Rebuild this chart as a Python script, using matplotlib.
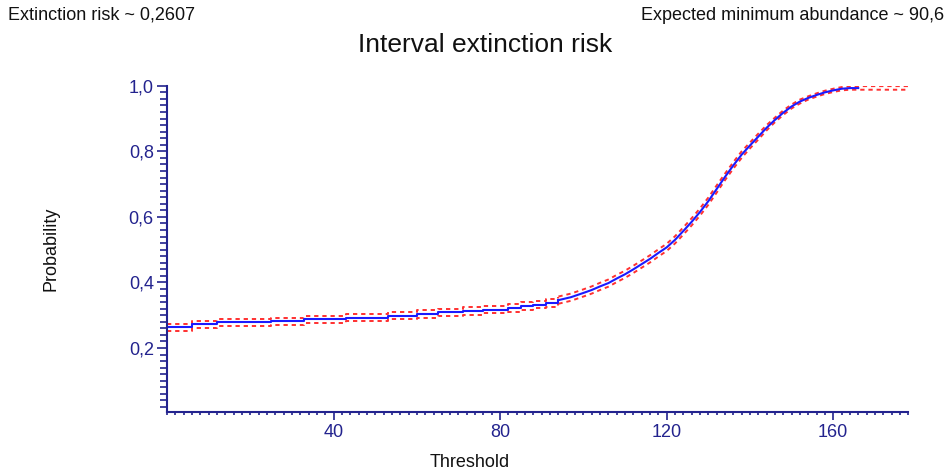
import matplotlib
matplotlib.use("Agg")
import matplotlib.pyplot as plt
from matplotlib.ticker import MultipleLocator, FixedLocator, FuncFormatter

# ---- data ----
threshold = [0, 6, 12, 25, 33, 43, 53, 60, 65, 71, 76, 82, 85, 88, 91, 94, 97,
             100, 102, 104, 106, 108, 110, 112, 114, 116, 118, 120, 122, 124,
             126, 128, 130, 132, 134, 136, 138, 140, 142, 144, 146, 148, 150,
             152, 154, 156, 158, 160, 162, 164, 166]
risk = [0.263, 0.272, 0.278, 0.282, 0.288, 0.2925, 0.299, 0.304, 0.309, 0.313,
        0.317, 0.322, 0.328, 0.332, 0.337, 0.346, 0.355, 0.368, 0.377, 0.388,
        0.398, 0.412, 0.425, 0.440, 0.456, 0.472, 0.490, 0.507, 0.530, 0.557,
        0.585, 0.615, 0.648, 0.685, 0.722, 0.757, 0.790, 0.818, 0.845, 0.872,
        0.896, 0.918, 0.937, 0.952, 0.963, 0.972, 0.980, 0.986, 0.991, 0.993,
        0.993]
bound_threshold = threshold + [178]
risk_upper = [0.274, 0.283, 0.289, 0.293, 0.299, 0.303, 0.310, 0.315, 0.320,
              0.324, 0.328, 0.333, 0.339, 0.343, 0.348, 0.357, 0.366, 0.379,
              0.388, 0.399, 0.409, 0.423, 0.436, 0.451, 0.467, 0.483, 0.501,
              0.518, 0.541, 0.568, 0.596, 0.626, 0.659, 0.696, 0.732, 0.767,
              0.800, 0.827, 0.854, 0.880, 0.903, 0.925, 0.943, 0.958, 0.968,
              0.977, 0.985, 0.991, 0.996, 0.999, 0.999, 0.999]
risk_lower = [0.252, 0.261, 0.267, 0.271, 0.277, 0.282, 0.288, 0.293, 0.298,
              0.302, 0.306, 0.311, 0.317, 0.321, 0.326, 0.335, 0.344, 0.357,
              0.366, 0.377, 0.387, 0.401, 0.414, 0.429, 0.445, 0.461, 0.479,
              0.496, 0.519, 0.546, 0.574, 0.604, 0.637, 0.674, 0.712, 0.747,
              0.780, 0.809, 0.836, 0.864, 0.889, 0.911, 0.931, 0.946, 0.958,
              0.967, 0.975, 0.981, 0.986, 0.988, 0.988, 0.988]
x_major = [40, 80, 120, 160]
y_major = [0.2, 0.4, 0.6, 0.8, 1.0]

title = "Interval extinction risk"
left_note = "Extinction risk ~ 0,2607"
right_note = "Expected minimum abundance ~ 90,6"

# ---- style ----
navy = "#23238e"
plt.rcParams["font.family"] = ["Liberation Sans", "DejaVu Sans"]

fig = plt.figure(figsize=(9.49, 4.74), dpi=100)
ax = fig.add_axes([0.176, 0.131, 0.781, 0.688])

# flat part drawn as steps, steep part as a line (as in the reference)
split = threshold.index(94)


def draw(xs, ys, **kw):
    ax.plot(xs[:split + 1], ys[:split + 1], drawstyle="steps-post", **kw)
    ax.plot(xs[split:], ys[split:], **kw)


red_kw = dict(color="#ff3030", lw=1.4, dashes=(2.2, 2))
draw(bound_threshold, risk_upper, **red_kw)
draw(bound_threshold, risk_lower, **red_kw)
draw(threshold, risk, color="#1a1aff", lw=1.5)

ax.set_xlim(0, 178)
ax.set_ylim(0.005, 1.0)

for s in ("top", "right"):
    ax.spines[s].set_visible(False)
for s in ("left", "bottom"):
    ax.spines[s].set_color(navy)
    ax.spines[s].set_linewidth(1.5)

ax.xaxis.set_major_locator(FixedLocator(x_major))
ax.xaxis.set_minor_locator(MultipleLocator(2))
ax.yaxis.set_major_locator(FixedLocator(y_major))
ax.yaxis.set_minor_locator(MultipleLocator(0.02))
ax.yaxis.set_major_formatter(FuncFormatter(lambda v, p: f"{v:.1f}".replace(".", ",")))
ax.xaxis.set_major_formatter(FuncFormatter(lambda v, p: f"{v:.0f}"))

ax.tick_params(axis="both", which="both", color=navy, width=1.2, direction="out",
               labelcolor=navy, labelsize=13)
ax.tick_params(axis="y", which="major", length=7.5, pad=2)
ax.tick_params(axis="y", which="minor", length=5)
ax.tick_params(axis="x", which="major", length=6, pad=3)
ax.tick_params(axis="x", which="minor", length=2.5)

ax.set_ylabel("Probability", fontsize=13, color="#111111", labelpad=50)
fig.text(0.495, 0.025, "Threshold", fontsize=13, ha="center", va="center", color="#111111")

fig.text(0.008, 0.968, left_note, fontsize=13, ha="left", va="center", color="#111111")
fig.text(0.995, 0.968, right_note, fontsize=13, ha="right", va="center", color="#111111")
fig.text(0.511, 0.905, title, fontsize=19, ha="center", va="center", color="#111111")

fig.savefig("out.png", dpi=100)
